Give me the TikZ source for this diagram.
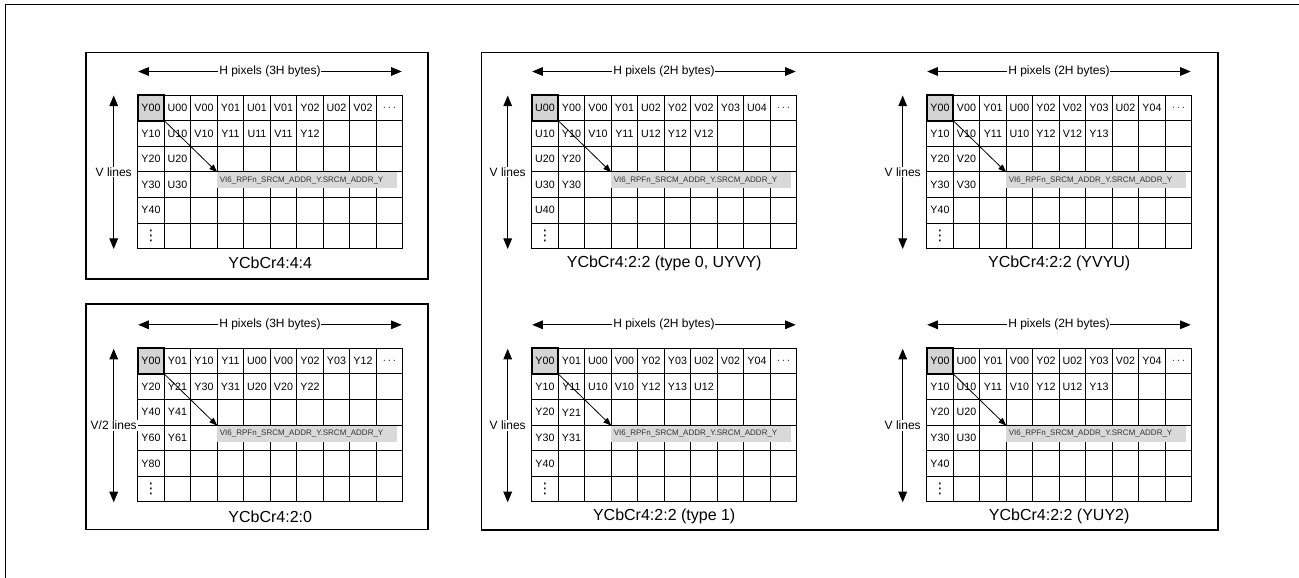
\documentclass[tikz,border=0pt]{standalone}
\usepackage{fontspec}
\setmainfont{Liberation Sans}
\newfontfamily\symfont{DejaVu Sans}
\usetikzlibrary{arrows.meta}
\definecolor{cellgray}{HTML}{D4D4D4}
\definecolor{bargray}{HTML}{D9D9D9}
\definecolor{bartext}{HTML}{333333}
\def\cw{26.5}
\def\ch{25.6}
\newcommand{\moredots}{{\symfont\fontsize{11}{11}\selectfont ⋮}}
\tikzset{
  frame/.style={draw=black,line width=1.4pt},
  panel/.style={draw=black,line width=0.8pt},
  gridline/.style={draw=black,line width=0.7pt},
  cell/.style={font=\fontsize{8}{9}\selectfont,inner sep=0pt},
  hilite/.style={draw=black,fill=cellgray,line width=1.5pt,minimum width=19.875pt,minimum height=19.2pt,inner sep=0pt,outer sep=0pt},
  addrbar/.style={fill=bargray,font=\fontsize{6}{7}\selectfont,text=bartext,text width=131pt,inner xsep=2pt,inner ysep=0pt,minimum height=12pt,align=left,anchor=north west,outer sep=0pt},
  lbl/.style={fill=white,inner sep=0.6pt,font=\fontsize{9}{11}\selectfont},
  caption/.style={font=\fontsize{12}{14}\selectfont},
  dimarr/.style={{Triangle[length=8pt,width=6.5pt]}-{Triangle[length=8pt,width=6.5pt]},line width=0.75pt},
  ptr/.style={-{Triangle[length=6pt,width=4.5pt]},line width=0.6pt}
}
\newcommand{\fmtpanel}[9]{%
\begin{scope}[shift={(#2,#3)}]
\foreach \i in {0,...,10}{\draw[gridline] (\i*\cw,0) -- (\i*\cw,6*\ch);}
\foreach \j in {0,...,6}{\draw[gridline] (0,\j*\ch) -- (10*\cw,\j*\ch);}
\node[hilite] (#1-sel) at ({0.5*\cw},{0.5*\ch}) {};
\node[addrbar] (#1-bar) at (3*\cw,3*\ch+0.5) {VI6\_RPFn\_SRCM\_ADDR\_Y.SRCM\_ADDR\_Y};
\foreach \txt [count=\cc] in {#7}{\node[cell] (#1-1-\cc) at ({(\cc-0.5)*\cw},{0.5*\ch}) {\txt};}
\foreach \txt [count=\cc] in {#8}{\node[cell] (#1-2-\cc) at ({(\cc-0.5)*\cw},{1.5*\ch}) {\txt};}
\foreach \rr/\cc/\txt in {#9}{\node[cell] (#1-\rr-\cc) at ({(\cc-0.5)*\cw},{(\rr-0.5)*\ch}) {\txt};}
\coordinate (#1-hl) at (0.5,-23.5); \coordinate (#1-hr) at (264,-23.5);
\coordinate (#1-vt) at (-24,0.5); \coordinate (#1-vb) at (-24,154);
\draw[dimarr] (#1-hl) -- node[lbl] (#1-h) {#4} (#1-hr);
\draw[dimarr] (#1-vt) -- node[lbl] (#1-v) {#5} (#1-vb);
\draw[ptr] (#1-sel.south east) -- (#1-bar.north west);
\node[caption] (#1-cap) at (132.5,168) {#6};
\end{scope}}

\begin{document}
\begin{tikzpicture}[x=0.75pt,y=-0.75pt]
\useasboundingbox (0,0) rectangle (1299,578);
\draw[frame] (1299,4.5) -- (5.5,4.5) -- (5.5,578);
\draw[panel] (86,52.7) rectangle (428,279);
\draw[panel] (86,304) rectangle (428,529.3);
\draw[panel] (481.7,52.7) rectangle (1218,530);
\fmtpanel{yuv444}{137.7}{95}{H pixels (3H bytes)}{V lines}{YCbCr4:4:4}{Y00,U00,V00,Y01,U01,V01,Y02,U02,V02,$\cdots$}{Y10,U10,V10,Y11,U11,V11,Y12}{3/1/Y20,3/2/U20,4/1/Y30,4/2/U30,5/1/Y40,6/1/\moredots}
\fmtpanel{uyvy}{531.7}{95}{H pixels (2H bytes)}{V lines}{YCbCr4:2:2 (type 0, UYVY)}{U00,Y00,V00,Y01,U02,Y02,V02,Y03,U04,$\cdots$}{U10,Y10,V10,Y11,U12,Y12,V12}{3/1/U20,3/2/Y20,4/1/U30,4/2/Y30,5/1/U40,6/1/\moredots}
\fmtpanel{yvyu}{926.7}{95}{H pixels (2H bytes)}{V lines}{YCbCr4:2:2 (YVYU)}{Y00,V00,Y01,U00,Y02,V02,Y03,U02,Y04,$\cdots$}{Y10,V10,Y11,U10,Y12,V12,Y13}{3/1/Y20,3/2/V20,4/1/Y30,4/2/V30,5/1/Y40,6/1/\moredots}
\fmtpanel{yuv420}{137.7}{348.3}{H pixels (3H bytes)}{V/2 lines}{YCbCr4:2:0}{Y00,Y01,Y10,Y11,U00,V00,Y02,Y03,Y12,$\cdots$}{Y20,Y21,Y30,Y31,U20,V20,Y22}{3/1/Y40,3/2/Y41,4/1/Y60,4/2/Y61,5/1/Y80,6/1/\moredots}
\fmtpanel{type1}{531.7}{348.3}{H pixels (2H bytes)}{V lines}{YCbCr4:2:2 (type 1)}{Y00,Y01,U00,V00,Y02,Y03,U02,V02,Y04,$\cdots$}{Y10,Y11,U10,V10,Y12,Y13,U12}{3/1/Y20,3/2/Y21,4/1/Y30,4/2/Y31,5/1/Y40,6/1/\moredots}
\fmtpanel{yuy2}{926.7}{348.3}{H pixels (2H bytes)}{V lines}{YCbCr4:2:2 (YUY2)}{Y00,U00,Y01,V00,Y02,U02,Y03,V02,Y04,$\cdots$}{Y10,U10,Y11,V10,Y12,U12,Y13}{3/1/Y20,3/2/U20,4/1/Y30,4/2/U30,5/1/Y40,6/1/\moredots}
\end{tikzpicture}
\end{document}
